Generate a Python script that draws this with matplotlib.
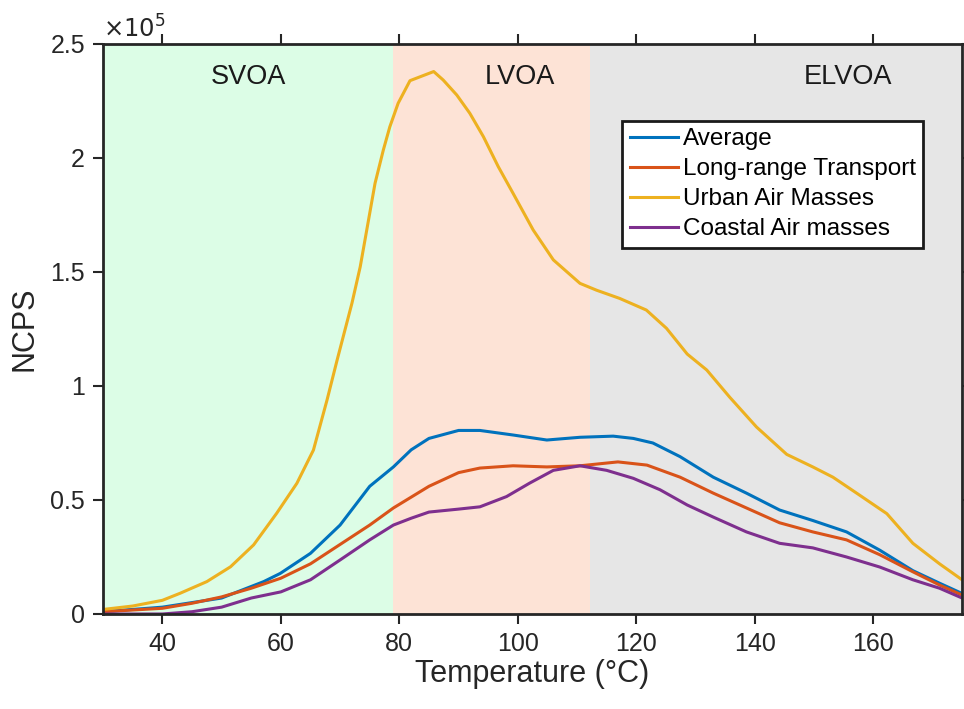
import numpy as np
import matplotlib.pyplot as plt

plt.rcParams['font.family'] = ['Liberation Sans', 'DejaVu Sans']

# temperature grid (°C) for each trace and NCPS values (x 1e5)
temp_avg = [30, 40, 50, 57.1, 59.9, 65, 70, 75, 79, 82, 85, 90, 93.6, 99.2, 104.9, 110.5,
            116.1, 119.5, 122.8, 127.4, 133, 138.6, 144.2, 149.8, 155.5, 161.1, 166.7, 171.2, 175]
ncps_avg = [0.01, 0.03, 0.07, 0.142, 0.178, 0.266, 0.39, 0.56, 0.645, 0.72, 0.77, 0.805, 0.805, 0.785,
            0.763, 0.775, 0.78, 0.77, 0.75, 0.69, 0.60, 0.53, 0.456, 0.41, 0.36, 0.28, 0.19, 0.135, 0.09]

temp_lrt = [30, 40, 45, 50, 55, 60, 65, 70, 75, 79, 85, 90, 93.6, 99.2, 104.9, 110.5, 116.9,
            121.8, 127.4, 133, 138.6, 144.2, 149.8, 155.5, 161.1, 166.7, 171.2, 175]
ncps_lrt = [0.01, 0.025, 0.047, 0.075, 0.113, 0.157, 0.22, 0.305, 0.39, 0.465, 0.56, 0.62, 0.64,
            0.65, 0.645, 0.65, 0.667, 0.653, 0.60, 0.53, 0.465, 0.40, 0.36, 0.325, 0.26, 0.185, 0.127, 0.083]

temp_urban = [30, 35, 40, 43, 47.5, 51.5, 55.4, 59.3, 62.7, 65.5, 67.8, 69.5, 72.0, 73.4, 74.8,
              75.9, 77.3, 78.4, 79.8, 81.8, 85.8, 87.4, 89.7, 91.9, 94.2, 96.7, 99.2, 102.6, 106,
              110.5, 113.3, 117.2, 121.7, 125.1, 128.6, 131.9, 135.8, 140.3, 145.4, 149.8, 153.2,
              157.2, 162.3, 166.7, 171.2, 175]
ncps_urban = [0.02, 0.035, 0.06, 0.091, 0.142, 0.207, 0.303, 0.442, 0.573, 0.719, 0.939, 1.114,
              1.363, 1.523, 1.728, 1.889, 2.035, 2.137, 2.24, 2.339, 2.379, 2.342, 2.276, 2.196,
              2.093, 1.962, 1.845, 1.684, 1.553, 1.45, 1.42, 1.384, 1.333, 1.253, 1.14, 1.07, 0.95,
              0.82, 0.70, 0.645, 0.60, 0.53, 0.44, 0.31, 0.22, 0.15]

temp_coast = [30, 40, 45, 50, 55, 60, 65, 70, 75, 79, 82, 85, 90, 93.6, 98.1, 102, 106, 110.5, 115,
              119.5, 124, 128.6, 133, 138.6, 144.2, 149.8, 155.5, 161.1, 166.7, 171.2, 175]
ncps_coast = [0.0, 0.0, 0.01, 0.03, 0.07, 0.097, 0.15, 0.237, 0.325, 0.39, 0.42, 0.447, 0.46, 0.47,
              0.515, 0.574, 0.63, 0.65, 0.63, 0.595, 0.545, 0.478, 0.425, 0.36, 0.31, 0.29, 0.25,
              0.206, 0.15, 0.113, 0.07]

regions = ['SVOA', 'LVOA', 'ELVOA']
region_edges = [30, 79, 112.2, 175]
region_colors = ['#dcfde6', '#fde3d6', '#e6e6e6']
region_label_x = [54.5, 100.4, 155.7]

fig = plt.figure(figsize=(9.64, 7.09), dpi=100)
ax = fig.add_axes([0.107, 0.134, 0.891, 0.804])

for i, name in enumerate(regions):
    ax.axvspan(region_edges[i], region_edges[i + 1], color=region_colors[i], lw=0, zorder=0)
    ax.text(region_label_x[i], 2.355, name, ha='center', va='center', fontsize=19.5, color='#1a1a1a')

lw = 2.2
ax.plot(temp_avg, ncps_avg, color='#0072BD', lw=lw, label='Average')
ax.plot(temp_lrt, ncps_lrt, color='#D95319', lw=lw, label='Long-range Transport')
ax.plot(temp_urban, ncps_urban, color='#EDB120', lw=lw, label='Urban Air Masses')
ax.plot(temp_coast, ncps_coast, color='#7E2F8E', lw=lw, label='Coastal Air masses')

ax.set_xlim(30, 175)
ax.set_ylim(0, 2.5)
ax.set_xticks([40, 60, 80, 100, 120, 140, 160])
ax.set_yticks([0, 0.5, 1, 1.5, 2, 2.5])
ax.set_yticklabels(['0', '0.5', '1', '1.5', '2', '2.5'])
ax.tick_params(direction='out', length=7, width=1.5, labelsize=18, colors='#262626',
               top=True, right=True, pad=6)
for s in ax.spines.values():
    s.set_linewidth(2)
    s.set_color('#262626')

ax.set_xlabel('Temperature (°C)', fontsize=22, color='#262626', labelpad=2)
ax.set_ylabel('NCPS', fontsize=22, color='#262626', labelpad=8)
ax.text(0.0, 1.003, r'$\times10^5$', transform=ax.transAxes, fontsize=17.5,
        ha='left', va='bottom', color='#262626')

leg = ax.legend(loc='upper right', bbox_to_anchor=(0.955, 0.865), fontsize=17.5,
                frameon=True, fancybox=False, handlelength=2.0, handletextpad=0.2,
                labelspacing=0.33, borderpad=0.3, borderaxespad=0)
leg.get_frame().set_edgecolor('#1a1a1a')
leg.get_frame().set_linewidth(2)
leg.get_frame().set_facecolor('white')
leg.get_frame().set_alpha(1)

fig.savefig('out.png', dpi=100)
